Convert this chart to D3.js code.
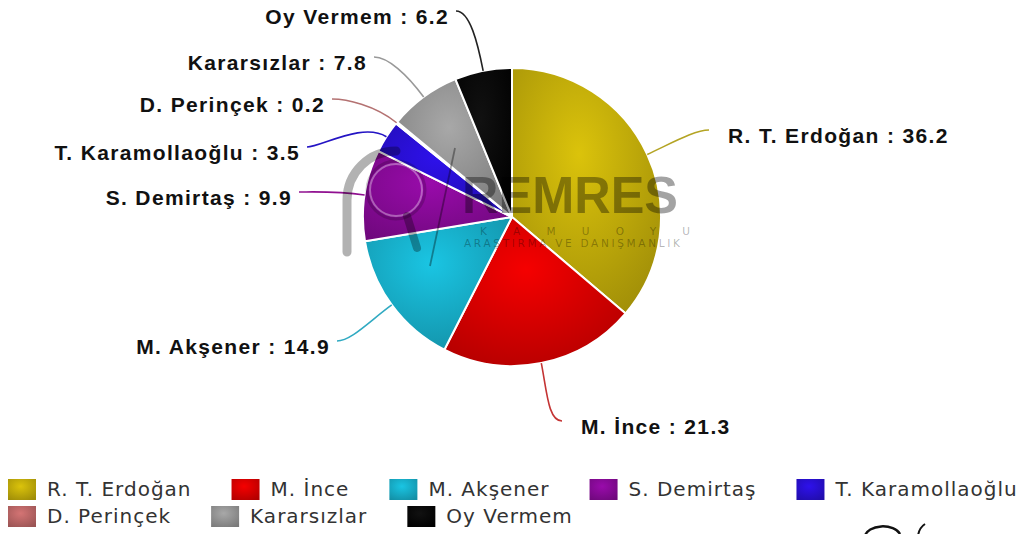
<!DOCTYPE html>
<html>
<head>
<meta charset="utf-8">
<script src="https://cdn.jsdelivr.net/npm/d3@7"></script>
<style>
  body { margin: 0; background: #fff; }
  svg { display: block; }
</style>
</head>
<body>
<div id="chart"></div>
<script>
// Data
const names = ["R. T. Erdoğan", "M. İnce", "M. Akşener", "S. Demirtaş",
  "T. Karamollaoğlu", "D. Perinçek", "Kararsızlar", "Oy Vermem"];
const values = [36.2, 21.3, 14.9, 9.9, 3.5, 0.2, 7.8, 6.2];
const colors = ["#c8b20a", "#e00000", "#18b4d0", "#8c0a9c",
  "#2a10d8", "#c26a6a", "#9a9a9a", "#000000"];
const lineColors = ["#b4a424", "#c43434", "#30aac2", "#901090",
  "#2414c4", "#b47272", "#999999", "#222222"];

// where each label sits (end of connector), and which side the text goes
const labelPos = [
  { x: 709, y: 130, side: "right" },
  { x: 562, y: 421, side: "right" },
  { x: 337, y: 341, side: "left" },
  { x: 299, y: 192, side: "left" },
  { x: 307, y: 147, side: "left" },
  { x: 332, y: 99, side: "left" },
  { x: 374, y: 57, side: "left" },
  { x: 456, y: 11, side: "left" }
];

const width = 1025, height = 534;
const cx = 512, cy = 217, radius = 149;

const svg = d3.select("#chart")
  .append("svg")
  .attr("width", width)
  .attr("height", height);

const defs = svg.append("defs");

// radial gradients like the original chart
colors.forEach((c, i) => {
  const g = defs.append("radialGradient")
    .attr("id", "grad" + i)
    .attr("cx", 0.45).attr("cy", 0.35).attr("r", 0.75);
  g.append("stop").attr("offset", "0%")
    .attr("stop-color", i === 7 ? "#111" : d3.color(c).brighter(0.25));
  g.append("stop").attr("offset", "100%")
    .attr("stop-color", i === 7 ? "#000" : d3.color(c).darker(0.65));
});

const pie = d3.pie().sort(null).value(d => d);
const arcs = pie(values);

const arc = d3.arc().innerRadius(0).outerRadius(radius);

const g = svg.append("g").attr("transform", `translate(${cx},${cy})`);

g.selectAll("path.slice")
  .data(arcs)
  .enter()
  .append("path")
  .attr("class", "slice")
  .attr("d", arc)
  .attr("fill", (d, i) => `url(#grad${i})`)
  .attr("stroke", "#fff")
  .attr("stroke-width", 2)
  .attr("stroke-linejoin", "round");

// connectors: from slice edge out to label point
g.selectAll("path.conn")
  .data(arcs)
  .enter()
  .append("path")
  .attr("class", "conn")
  .attr("fill", "none")
  .attr("stroke", (d, i) => lineColors[i])
  .attr("stroke-width", 1.6)
  .attr("d", (d, i) => {
    const a = (d.startAngle + d.endAngle) / 2;
    const p0 = [Math.sin(a) * radius, -Math.cos(a) * radius];
    const lp = labelPos[i];
    const p3 = [lp.x - cx, lp.y - cy];
    const k = 28;
    const p1 = [p0[0] + Math.sin(a) * k, p0[1] - Math.cos(a) * k];
    const dir = lp.side === "right" ? -1 : 1;
    const p2 = [p3[0] + dir * 14, p3[1]];
    return `M${p0}C${p1} ${p2} ${p3}`;
  });

// slice labels
svg.selectAll("text.lbl")
  .data(arcs)
  .enter()
  .append("text")
  .attr("class", "lbl")
  .attr("x", (d, i) => labelPos[i].side === "right" ? labelPos[i].x + 19 : labelPos[i].x - 7)
  .attr("y", (d, i) => labelPos[i].y + 6)
  .attr("dy", "0.32em")
  .attr("text-anchor", (d, i) => labelPos[i].side === "right" ? "start" : "end")
  .attr("font-family", "'Liberation Sans', Arial, sans-serif")
  .attr("font-weight", "bold")
  .attr("font-size", 21)
  .attr("letter-spacing", 1.35)
  .attr("fill", "#111")
  .text((d, i) => `${names[i]} : ${values[i]}`);

// watermark
const wm = svg.append("g").attr("pointer-events", "none");
wm.append("path")
  .attr("d", "M347,252 L347,200 A49,49 0 0 1 396,151")
  .attr("fill", "none").attr("stroke", "#000").attr("stroke-opacity", 0.3)
  .attr("stroke-width", 9).attr("stroke-linecap", "round");
wm.append("circle")
  .attr("cx", 396).attr("cy", 190).attr("r", 26)
  .attr("fill", "none").attr("stroke", "#fff").attr("stroke-opacity", 0.35)
  .attr("stroke-width", 2);
wm.append("circle")
  .attr("cx", 396).attr("cy", 190).attr("r", 29)
  .attr("fill", "none").attr("stroke", "#000").attr("stroke-opacity", 0.18)
  .attr("stroke-width", 3);
wm.append("line")
  .attr("x1", 407).attr("y1", 216).attr("x2", 417).attr("y2", 248)
  .attr("stroke", "#000").attr("stroke-opacity", 0.3)
  .attr("stroke-width", 8).attr("stroke-linecap", "round");
wm.append("line")
  .attr("x1", 455).attr("y1", 148).attr("x2", 430).attr("y2", 266)
  .attr("stroke", "#000").attr("stroke-opacity", 0.35)
  .attr("stroke-width", 1.8);
wm.append("text")
  .attr("x", 462).attr("y", 213)
  .attr("font-family", "'Liberation Sans', Arial, sans-serif")
  .attr("font-weight", "bold")
  .attr("font-size", 52)
  .attr("textLength", 216)
  .attr("lengthAdjust", "spacingAndGlyphs")
  .attr("fill", "#000").attr("fill-opacity", 0.36)
  .text("REMRES");
wm.append("text")
  .attr("x", 480).attr("y", 235)
  .attr("font-family", "'DejaVu Sans', sans-serif")
  .attr("font-size", 10.5)
  .attr("textLength", 210)
  .attr("fill", "#000").attr("fill-opacity", 0.3)
  .text("KAMUOYU");
wm.append("text")
  .attr("x", 464).attr("y", 247)
  .attr("font-family", "'DejaVu Sans', sans-serif")
  .attr("font-size", 10.5)
  .attr("textLength", 216)
  .attr("fill", "#000").attr("fill-opacity", 0.3)
  .text("ARAŞTIRMA VE DANIŞMANLIK");

// legend: five items on the first row, the rest on the second
const legend = svg.append("g");
const rowY = [489, 516];
const perRow = 5;
let lx = 8;
names.forEach((n, i) => {
  const row = i < perRow ? 0 : 1;
  if (i === perRow) lx = 8;
  const item = legend.append("g")
    .attr("transform", `translate(${lx},${rowY[row]})`);
  item.append("rect")
    .attr("x", 0).attr("y", -10)
    .attr("width", 28).attr("height", 21)
    .attr("fill", `url(#grad${i})`);
  const t = item.append("text")
    .attr("x", 39)
    .attr("dy", "0.36em")
    .attr("font-family", "'DejaVu Sans', sans-serif")
    .attr("font-size", 20)
    .attr("letter-spacing", 1.0)
    .attr("fill", "#333")
    .text(n);
  lx += 39 + t.node().getComputedTextLength() + 40;
});

// corner logo fragment
svg.append("path")
  .attr("d", "M865,536 A18,11 0 0 1 900,534")
  .attr("fill", "none").attr("stroke", "#111").attr("stroke-width", 2.5);
svg.append("path")
  .attr("d", "M925,524 Q919,528 918,536")
  .attr("fill", "none").attr("stroke", "#111").attr("stroke-width", 2);
</script>
</body>
</html>
